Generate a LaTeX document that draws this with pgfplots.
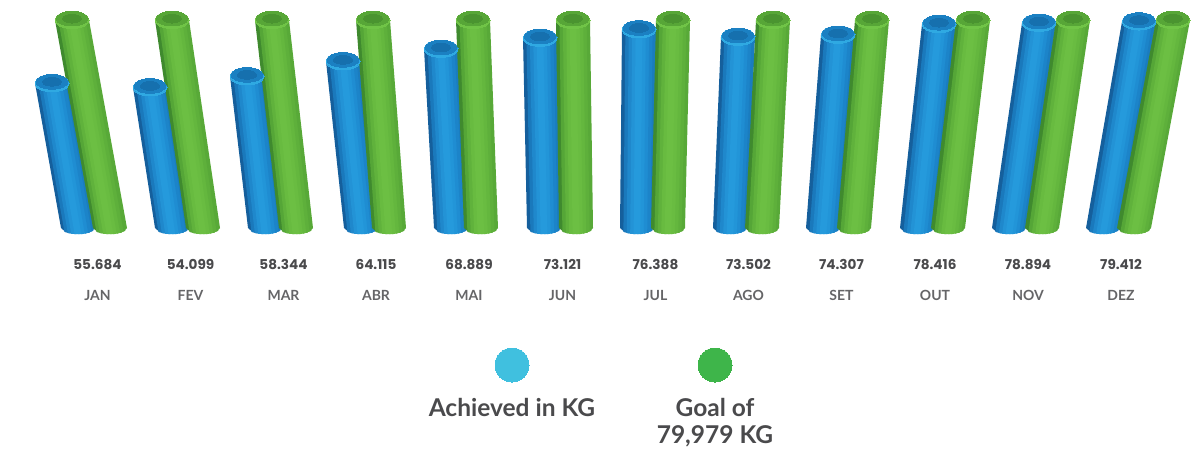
\documentclass[border=0pt]{standalone}
\usepackage{fontspec}
\setmainfont{Lato}
\newfontfamily\valfont{Poppins}
\usepackage{pgfplots}
\pgfplotsset{compat=1.18}
% body gradient stops, left to right
\definecolor{b1}{HTML}{155F9C}\definecolor{b2}{HTML}{1A79BC}\definecolor{b3}{HTML}{1F88CC}\definecolor{b4}{HTML}{2393D6}\definecolor{b5}{HTML}{259ADC}
\definecolor{b6}{HTML}{259ADC}\definecolor{b7}{HTML}{2295D8}\definecolor{b8}{HTML}{1F8DD2}\definecolor{b9}{HTML}{1C84C9}\definecolor{b10}{HTML}{1A7CBF}
\definecolor{g1}{HTML}{3F8A2E}\definecolor{g2}{HTML}{55A637}\definecolor{g3}{HTML}{60B23C}\definecolor{g4}{HTML}{68BB40}\definecolor{g5}{HTML}{6CBF43}
\definecolor{g6}{HTML}{6CBF43}\definecolor{g7}{HTML}{69BC41}\definecolor{g8}{HTML}{64B73E}\definecolor{g9}{HTML}{5EB03B}\definecolor{g10}{HTML}{58A938}
\definecolor{brim}{HTML}{2FA9E2}\definecolor{bcap}{HTML}{1B80C2}\definecolor{bcore}{HTML}{1670AE}
\definecolor{grim}{HTML}{70C447}\definecolor{gcap}{HTML}{57A637}\definecolor{gcore}{HTML}{4A9430}
\definecolor{txt}{HTML}{4A4A4C}
\definecolor{legb}{RGB}{64,192,223}
\definecolor{legg}{RGB}{62,181,74}
\newcommand{\strip}[6]{% xbase xtop value a b colour: painted left to right, each overlapping the next
  \pgfmathsetmacro{\bb}{min(1,#5+0.1)}
  \pgfmathsetmacro{\xba}{#1+17*(#4)}
  \pgfmathsetmacro{\xbb}{#1+17*\bb}
  \pgfmathsetmacro{\xta}{#2+17*(#4)}
  \pgfmathsetmacro{\xtb}{#2+17*\bb}
  \pgfmathsetmacro{\ya}{-2.4*sqrt(max(0,1-(#4)*(#4)))}
  \pgfmathsetmacro{\yb}{-2.4*sqrt(max(0,1-\bb*\bb))}
  \addplot[fill=#6,draw=none] coordinates {(\xba,\ya) (\xbb,\yb) (\xtb,#3) (\xta,#3)} --cycle;
}
\newcommand{\cyl}[4]{% xbase xtop value family(b/g)
  \strip{#1}{#2}{#3}{-1}{-.8}{#41}\strip{#1}{#2}{#3}{-.8}{-.6}{#42}
  \strip{#1}{#2}{#3}{-.6}{-.4}{#43}\strip{#1}{#2}{#3}{-.4}{-.2}{#44}
  \strip{#1}{#2}{#3}{-.2}{0}{#45}\strip{#1}{#2}{#3}{0}{.2}{#46}
  \strip{#1}{#2}{#3}{.2}{.4}{#47}\strip{#1}{#2}{#3}{.4}{.6}{#48}
  \strip{#1}{#2}{#3}{.6}{.8}{#49}\strip{#1}{#2}{#3}{.8}{1}{#410}
  \addplot[only marks,mark=*,mark size=17pt,mark options={draw=#4rim,fill=#4rim,line width=0pt,yscale=.5}] coordinates {(#2,#3)};
  \pgfmathsetmacro{\ycap}{#3+0.55}
  \addplot[only marks,mark=*,mark size=16pt,mark options={draw=#4cap,fill=#4cap,line width=0pt,yscale=.46}] coordinates {(#2,\ycap)};
  \addplot[only marks,mark=*,mark size=9.5pt,mark options={draw=#4core,fill=#4core,line width=0pt,yscale=.46}] coordinates {(#2,\ycap)};
}
\begin{document}
\begin{tikzpicture}
\path[use as bounding box] (0,0) rectangle (1201pt,448pt);
\begin{axis}[
  anchor=south west,at={(0,0)},
  scale only axis,width=1201pt,height=448pt,
  xmin=0,xmax=1201,ymin=-84.615,ymax=87.692,
  axis lines=none,clip=false,
  nodes near coords style={anchor=center,text=txt},
]
\cyl{78}{52}{55.684}{b}\cyl{110}{72}{79.979}{g}
\cyl{172}{150}{54.099}{b}\cyl{203}{172}{79.979}{g}
\cyl{265}{247}{58.344}{b}\cyl{296}{272}{79.979}{g}
\cyl{361}{343}{64.115}{b}\cyl{389}{373}{79.979}{g}
\cyl{451}{441}{68.889}{b}\cyl{481}{473}{79.979}{g}
\cyl{544}{540}{73.121}{b}\cyl{576}{573}{79.979}{g}
\cyl{637}{639}{76.388}{b}\cyl{668}{673}{79.979}{g}
\cyl{730}{738}{73.502}{b}\cyl{762}{773}{79.979}{g}
\cyl{823}{838}{74.307}{b}\cyl{854}{872}{79.979}{g}
\cyl{917}{939}{78.416}{b}\cyl{948}{973}{79.979}{g}
\cyl{1009}{1039}{78.894}{b}\cyl{1042}{1073}{79.979}{g}
\cyl{1103}{1139}{79.412}{b}\cyl{1134}{1173}{79.979}{g}
% value labels
\addplot[draw=none,mark=none,nodes near coords,point meta=explicit symbolic,
  nodes near coords style={font=\valfont\fontsize{13.6}{15}\selectfont\bfseries}]
 table[meta=t,row sep=\\] {
 x y t\\
 97.5 -14.2 55.684\\ 190.5 -14.2 54.099\\ 283.5 -14.2 58.344\\ 376 -14.2 64.115\\
 469 -14.2 68.889\\ 562.5 -14.2 73.121\\ 655.5 -14.2 76.388\\ 748.5 -14.2 73.502\\
 841.5 -14.2 74.307\\ 935 -14.2 78.416\\ 1028 -14.2 78.894\\ 1121 -14.2 79.412\\
 };
% months
\addplot[draw=none,mark=none,nodes near coords,point meta=explicit symbolic,
  nodes near coords style={font=\fontsize{14}{15}\selectfont\bfseries,text=txt!85}]
 table[meta=t,row sep=\\] {
 x y t\\
 97.5 -25.8 JAN\\ 190.5 -25.8 FEV\\ 283.5 -25.8 MAR\\ 376 -25.8 ABR\\
 469 -25.8 MAI\\ 562.5 -25.8 JUN\\ 655.5 -25.8 JUL\\ 748.5 -25.8 AGO\\
 841.5 -25.8 SET\\ 935 -25.8 OUT\\ 1028 -25.8 NOV\\ 1121 -25.8 DEZ\\
 };
% legend
\addplot[only marks,mark=*,mark size=17pt,mark options={draw=legb,fill=legb,line width=0pt}] coordinates {(512,-52.7)};
\addplot[only marks,mark=*,mark size=17pt,mark options={draw=legg,fill=legg,line width=0pt}] coordinates {(715,-52.7)};
\addplot[draw=none,mark=none,nodes near coords,point meta=explicit symbolic,
  nodes near coords style={font=\fontsize{24.5}{26}\selectfont\bfseries}]
 table[meta=t,row sep=\\] {
 x y t\\
 512 -69.2 {Achieved in KG}\\
 715 -69.2 {Goal of}\\
 715 -80.0 {79,979 KG}\\
 };
\end{axis}
\end{tikzpicture}
\end{document}
